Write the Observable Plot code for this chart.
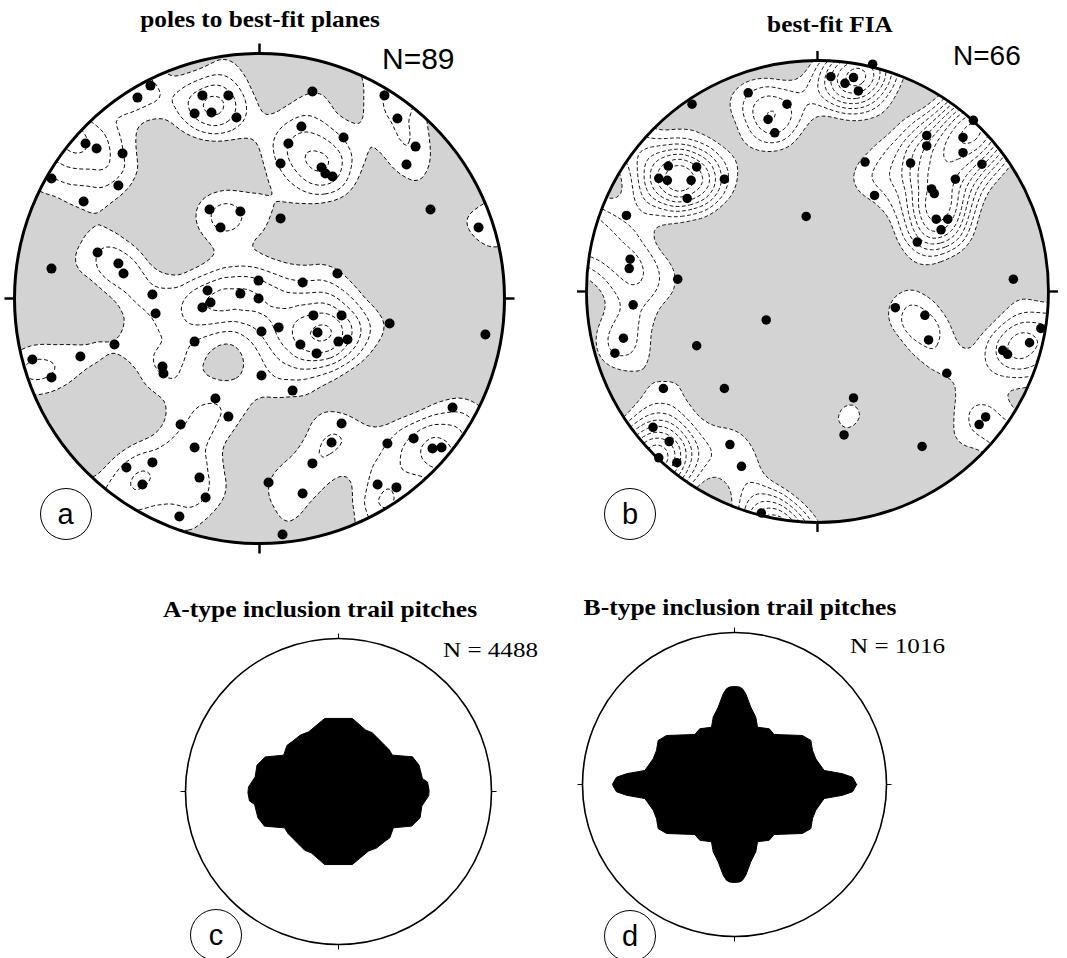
<!DOCTYPE html>
<html>
<head>
<meta charset="utf-8">
<script src="https://cdn.jsdelivr.net/npm/d3@7"></script>
<script src="https://cdn.jsdelivr.net/npm/@observablehq/plot@0.6"></script>
<style>
html, body { margin: 0; padding: 0; background: #fff; }
#fig { position: relative; width: 1067px; height: 958px; overflow: hidden; background: #fff; }
.panel { position: absolute; }
.txt { position: absolute; white-space: nowrap; line-height: 1; color: #000; }
.lab { position: absolute; box-sizing: border-box; border: 1.5px solid #000; border-radius: 50%;
       display: flex; align-items: center; justify-content: center; line-height: 1;
       font-family: "Liberation Sans", Arial, sans-serif; color: #000; background: #fff; }
</style>
</head>
<body>
<div id="fig"></div>
<script>
// ---------------- DATA ----------------
// (a) poles to best-fit planes, unit-circle coordinates (x east, y north)
const polesX = [-0.445,-0.498,-0.233,-0.127,-0.265,-0.196,-0.094,0.216,0.510,0.563,
  0.637,0.600,0.171,0.343,0.118,0.086,0.253,0.269,0.298,-0.710,
  -0.665,-0.559,-0.849,-0.576,-0.718,-0.204,-0.078,-0.159,0.086,0.698,
  0.894,-0.661,-0.576,-0.555,-0.849,0.318,0.176,-0.004,-0.437,-0.212,
  -0.078,-0.004,-0.233,-0.200,-0.424,0.220,0.335,0.531,0.922,0.008,
  0.078,0.237,0.167,0.233,0.322,0.359,-0.265,-0.592,-0.731,-0.927,
  -0.849,-0.396,-0.392,0.008,0.135,-0.180,-0.127,-0.322,-0.265,-0.245,
  -0.220,-0.437,-0.543,-0.478,-0.327,0.094,0.335,0.294,0.216,0.176,
  0.037,0.522,0.629,0.788,0.706,0.743,0.482,0.559];
const polesY = [0.869,0.820,0.829,0.829,0.755,0.759,0.739,0.845,0.829,0.735,
  0.620,0.547,0.702,0.657,0.633,0.551,0.535,0.510,0.498,0.633,
  0.612,0.592,0.490,0.461,0.396,0.363,0.355,0.290,0.327,0.363,
  0.290,0.188,0.143,0.102,0.122,0.102,0.065,0.073,0.016,0.033,
  0.020,0.000,-0.037,-0.016,-0.061,-0.069,-0.069,-0.102,-0.147,-0.135,
  -0.118,-0.139,-0.188,-0.224,-0.176,-0.167,-0.176,-0.188,-0.237,-0.249,
  -0.322,-0.278,-0.306,-0.314,-0.376,-0.408,-0.482,-0.514,-0.608,-0.731,
  -0.812,-0.669,-0.690,-0.759,-0.890,-0.963,-0.510,-0.588,-0.673,-0.796,
  -0.751,-0.592,-0.571,-0.445,-0.612,-0.608,-0.759,-0.771];

// (b) best-fit FIA
const fiaX = [0.239,0.058,0.119,0.156,0.177,-0.543,-0.300,-0.132,-0.214,-0.185,
  0.675,0.473,0.473,0.630,0.630,0.712,0.206,0.403,0.597,0.494,
  0.506,0.247,0.514,0.564,0.535,0.432,0.848,-0.646,-0.523,-0.687,
  -0.650,-0.547,-0.403,-0.564,-0.049,-0.827,-0.811,-0.815,-0.605,-0.798,
  -0.840,-0.877,-0.222,-0.523,-0.403,-0.667,0.337,0.465,0.481,0.560,
  0.967,0.918,0.802,0.823,0.728,0.700,0.156,0.115,0.453,-0.712,
  -0.642,-0.609,-0.687,-0.379,-0.329,-0.243];
const fiaY = [0.984,0.930,0.901,0.926,0.868,0.811,0.860,0.811,0.745,0.687,
  0.741,0.675,0.630,0.667,0.601,0.551,0.560,0.556,0.486,0.444,
  0.424,0.416,0.313,0.313,0.267,0.214,0.053,0.543,0.539,0.490,
  0.481,0.481,0.486,0.403,0.325,0.329,0.140,0.099,0.053,-0.058,
  -0.202,-0.267,-0.123,-0.235,-0.420,-0.420,-0.070,-0.103,-0.210,-0.354,
  -0.160,-0.222,-0.255,-0.272,-0.543,-0.576,-0.461,-0.621,-0.671,-0.588,
  -0.650,-0.741,-0.720,-0.663,-0.757,-0.959];

// (c) A-type pitch rose: outline for 0-180 deg (axial, repeats at +180)
const aTypeAngles = [0.8,6.1,8.7,18.1,25.1,34.0,39.7,60.1,66.2,79.3,
  100.7,116.5,124.1,133.1,138.0,146.5,154.7,162.1,170.1,177.1];
const aTypeRadii = [0.592,0.585,0.555,0.554,0.534,0.425,0.429,0.443,0.439,0.486,
  0.486,0.436,0.445,0.445,0.452,0.430,0.529,0.560,0.553,0.589];

// (d) B-type pitch rose: outline for 0-90 deg (mirrored in all quadrants)
const bTypeAngles = [0,1.9,3.5,5.7,8.9,17.5,23.6,30.0,35.8,51.6,58.1,68.1,72.4,78.1,82.9,85.2,87.0,90.0];
const bTypeRadii = [0.803,0.790,0.778,0.714,0.597,0.561,0.560,0.580,0.551,0.420,0.432,0.406,0.464,0.520,0.601,0.632,0.642,0.645];

const panelTitles = ["poles to best-fit planes", "best-fit FIA",
  "A-type inclusion trail pitches", "B-type inclusion trail pitches"];
const countLabels = ["N=89", "N=66", "N = 4488", "N = 1016"];
const panelLetters = ["a", "b", "c", "d"];

// ---------------- LAYOUT ----------------
const fig = document.getElementById("fig");
const SERIF = '"Liberation Serif", "Times New Roman", serif';
const SANS = '"Liberation Sans", Arial, sans-serif';
const GREY = "#d3d3d3";
const tickDirs = [[0, 1], [1, 0], [0, -1], [-1, 0]];
const origin = [{x: 0, y: 0}];

function addText(str, {x, baseline, anchor = "start", size, family, weight = "normal", sx = 1}) {
  const d = document.createElement("div");
  d.className = "txt";
  d.textContent = str;
  const asc = family === SERIF ? 0.8375 : 0.8465;
  d.style.fontFamily = family;
  d.style.fontSize = size + "px";
  d.style.fontWeight = weight;
  d.style.left = x + "px";
  d.style.top = (baseline - asc * size) + "px";
  d.style.transformOrigin = "0 0";
  d.style.transform = anchor === "middle" ? `scaleX(${sx}) translateX(-50%)` : `scaleX(${sx})`;
  fig.appendChild(d);
}

function addLetter(str, cx, cy, rad, size) {
  const d = document.createElement("div");
  d.className = "lab";
  d.textContent = str;
  d.style.left = (cx - rad) + "px";
  d.style.top = (cy - rad) + "px";
  d.style.width = (2 * rad) + "px";
  d.style.height = (2 * rad) + "px";
  d.style.fontSize = size + "px";
  fig.appendChild(d);
}

function place(svg, cx, cy, r, pad) {
  const wrap = document.createElement("div");
  wrap.className = "panel";
  wrap.style.left = (cx - r - pad) + "px";
  wrap.style.top = (cy - r - pad) + "px";
  wrap.appendChild(svg);
  fig.appendChild(wrap);
}

function tickMark(r, len, width) {
  return Plot.link(tickDirs, {
    x1: d => d[0], y1: d => d[1],
    x2: d => d[0] * (1 + len / r), y2: d => d[1] * (1 + len / r),
    stroke: "black", strokeWidth: width
  });
}

function stereonet({cx, cy, r, pad, X, Y, bw, levels}) {
  const pts = X.map((x, i) => ({x, y: Y[i]}));
  // antipodal wrap for points near the primitive (used only for contouring)
  const wrapPts = pts.flatMap(p => {
    const rho = Math.hypot(p.x, p.y);
    return rho > 0.8 ? [{x: -p.x / rho * (2 - rho), y: -p.y / rho * (2 - rho)}] : [];
  });
  const dens = pts.concat(wrapPts);
  const size = 2 * (r + pad);
  const svg = Plot.plot({
    width: size, height: size, margin: pad,
    x: {domain: [-1, 1], axis: null},
    y: {domain: [-1, 1], axis: null},
    style: {background: "transparent", overflow: "hidden"},
    marks: [
      Plot.dot(origin, {x: "x", y: "y", r: r, fill: GREY}),
      Plot.density(dens, {x: "x", y: "y", bandwidth: bw, thresholds: [levels[0]], fill: "white", stroke: "none"}),
      Plot.density(dens, {x: "x", y: "y", bandwidth: bw, thresholds: levels, fill: "none",
        stroke: "black", strokeWidth: 0.95, strokeDasharray: "4,2.5"}),
      Plot.dot(origin, {x: "x", y: "y", r: r + 1 + 160, fill: "none", stroke: "white", strokeWidth: 320}),
      Plot.dot(pts, {x: "x", y: "y", r: 5, fill: "black"}),
      Plot.dot(origin, {x: "x", y: "y", r: r, fill: "none", stroke: "black", strokeWidth: 3}),
      tickMark(r, 10, 2.5)
    ]
  });
  place(svg, cx, cy, r, pad);
}

function roseNet({cx, cy, r, pad, verts}) {
  const size = 2 * (r + pad);
  const svg = Plot.plot({
    width: size, height: size, margin: pad,
    x: {domain: [-1, 1], axis: null},
    y: {domain: [-1, 1], axis: null},
    style: {background: "transparent", overflow: "hidden"},
    marks: [
      Plot.line(verts, {x: "x", y: "y", fill: "black", stroke: "black", strokeWidth: 1, curve: "linear-closed"}),
      Plot.dot(origin, {x: "x", y: "y", r: r, fill: "none", stroke: "black", strokeWidth: 1.6}),
      tickMark(r, 5, 1)
    ]
  });
  place(svg, cx, cy, r, pad);
}

const toXY = (a, rr) => ({x: rr * Math.cos(a * Math.PI / 180), y: rr * Math.sin(a * Math.PI / 180)});

// A-type: half outline + its 180-degree repeat
const aVerts = [
  ...aTypeAngles.map((a, i) => toXY(a, aTypeRadii[i])),
  ...aTypeAngles.map((a, i) => toXY(a + 180, aTypeRadii[i]))
];
// B-type: quadrant mirrored into four quadrants
const q = bTypeAngles.map((a, i) => [a, bTypeRadii[i]]);
const bVerts = [
  ...q.map(([a, rr]) => toXY(a, rr)),
  ...q.slice().reverse().map(([a, rr]) => toXY(180 - a, rr)),
  ...q.map(([a, rr]) => toXY(180 + a, rr)),
  ...q.slice().reverse().map(([a, rr]) => toXY(360 - a, rr))
];

// contour levels (Plot density units: 100 x points per px^2), in multiples of one isolated point's peak
function levelsFor(bw, n, first, step) {
  const single = 100 / (2 * Math.PI * bw * bw);
  return d3.range(n).map(i => single * (first + step * i));
}

stereonet({cx: 259, cy: 298, r: 245, pad: 20, X: polesX, Y: polesY, bw: 21, levels: levelsFor(21, 16, 1.22, 0.55)});
stereonet({cx: 830, cy: 304, r: 243, pad: 20, X: fiaX, Y: fiaY, bw: 22.5, levels: levelsFor(22.5, 22, 1.1, 0.4)});
roseNet({cx: 337.5, cy: 790.5, r: 153, pad: 12, verts: aVerts});
roseNet({cx: 733.5, cy: 783.5, r: 152, pad: 12, verts: bVerts});

// titles and labels
addText(panelTitles[0], {x: 260, baseline: 27, anchor: "middle", size: 23, family: SERIF, weight: "bold", sx: 1.1});
addText(panelTitles[1], {x: 830, baseline: 32, anchor: "middle", size: 23, family: SERIF, weight: "bold", sx: 1.1});
addText(panelTitles[2], {x: 320, baseline: 617, anchor: "middle", size: 23, family: SERIF, weight: "bold", sx: 1.11});
addText(panelTitles[3], {x: 740, baseline: 615, anchor: "middle", size: 23, family: SERIF, weight: "bold", sx: 1.11});
addText(countLabels[0], {x: 382, baseline: 69, size: 30, family: SANS});
addText(countLabels[1], {x: 953, baseline: 66, size: 28, family: SANS});
addText(countLabels[2], {x: 443, baseline: 657, size: 22, family: SERIF, sx: 1.14});
addText(countLabels[3], {x: 850, baseline: 653, size: 22, family: SERIF, sx: 1.14});
addLetter(panelLetters[0], 65.5, 514, 26, 29);
addLetter(panelLetters[1], 630, 514, 26, 29);
addLetter(panelLetters[2], 216, 935, 26, 29);
addLetter(panelLetters[3], 630, 936, 26, 29);
</script>
</body>
</html>
